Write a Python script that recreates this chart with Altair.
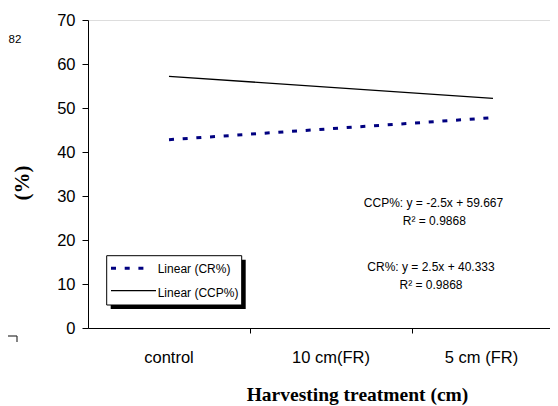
import altair as alt
import pandas as pd

# ---- data ----
categories = ["control", "10 cm(FR)", "5 cm (FR)"]
positions = [1, 2, 3]
cr_values = [42.8, 45.3, 47.8]      # Linear (CR%)
ccp_values = [57.2, 54.7, 52.2]     # Linear (CCP%)
y_ticks = [0, 10, 20, 30, 40, 50, 60, 70]
legend_labels = ["Linear (CR%)", "Linear (CCP%)"]
equations = ["CCP%: y = -2.5x + 59.667", "R\u00b2 = 0.9868",
             "CR%: y = 2.5x + 40.333", "R\u00b2 = 0.9868"]
x_title = "Harvesting treatment (cm)"
y_title = "(%)"

df = pd.DataFrame({"pos": positions, "cat": categories,
                   "cr": cr_values, "ccp": ccp_values})
one = pd.DataFrame({"k": [0]})

W, H = 462, 308
SANS = "Liberation Sans"
SERIF = "Liberation Serif"

xscale = alt.Scale(domain=[0.5, 0.5 + W / 162.0], nice=False, zero=False)
yscale = alt.Scale(domain=[0, 70], nice=False)

xaxis = alt.Axis(values=[1.5, 2.5], labels=False, tickSize=5, title=None,
                 grid=False, domainColor="black", tickColor="black")
yaxis = alt.Axis(values=y_ticks, tickSize=6, labelPadding=7, labelFontSize=16.5,
                 labelFont=SANS, labelColor="black", title=None, grid=False,
                 domainColor="black", tickColor="black")

base = alt.Chart(df)

ccp_line = base.mark_line(color="black", strokeWidth=1.3).encode(
    x=alt.X("pos:Q", scale=xscale, axis=xaxis),
    y=alt.Y("ccp:Q", scale=yscale, axis=yaxis),
)
cr_line = base.mark_line(color="#000080", strokeWidth=3, strokeDash=[5, 8.7]).encode(
    x=alt.X("pos:Q", scale=xscale),
    y=alt.Y("cr:Q", scale=yscale),
)
cat_labels_a = alt.Chart(df.iloc[:2]).mark_text(
    font=SANS, fontSize=16.5, color="black", baseline="alphabetic", align="center"
).encode(x=alt.X("pos:Q", scale=xscale), y=alt.value(343), text="cat:N")
cat_labels_b = alt.Chart(df.iloc[2:]).mark_text(
    font=SANS, fontSize=16.5, color="black", baseline="alphabetic", align="center",
    dx=-11.5,
).encode(x=alt.X("pos:Q", scale=xscale), y=alt.value(343), text="cat:N")


def txt(s, x, y, size=12, font=SANS, align="center", weight="normal", angle=0):
    kw = dict(text=s, font=font, fontSize=size, color="black", align=align,
              baseline="alphabetic", fontWeight=weight)
    if angle:
        kw["angle"] = angle
        kw["baseline"] = "middle"
    return alt.Chart(one).mark_text(**kw).encode(x=alt.value(x), y=alt.value(y))


def rule(x1, x2, y1, y2, color="black", width=1, dash=None):
    kw = dict(color=color, strokeWidth=width)
    if dash:
        kw["strokeDash"] = dash
    return alt.Chart(one).mark_rule(**kw).encode(
        x=alt.value(x1), x2=alt.value(x2), y=alt.value(y1), y2=alt.value(y2))


# legend
shadow = alt.Chart(one).mark_rect(fill="black").encode(
    x=alt.value(22.7), x2=alt.value(157.7), y=alt.value(239.7), y2=alt.value(289))
box = alt.Chart(one).mark_rect(fill="white", stroke="black", strokeWidth=1).encode(
    x=alt.value(18.7), x2=alt.value(153.7), y=alt.value(235.7), y2=alt.value(285))
leg_cr = rule(23, 64, 248.3, 248.3, color="#000080", width=3, dash=[5, 8.7])
leg_ccp = rule(23, 68, 270.7, 270.7, color="black", width=1.3)
leg_t1 = txt(legend_labels[0], 69.7, 252.7, size=12, align="left")
leg_t2 = txt(legend_labels[1], 69.7, 277, size=12, align="left")

# trendline equations
eq1 = txt(equations[0], 345.5, 187)
eq2 = txt(equations[1], 346.3, 205)
eq3 = txt(equations[2], 343, 251)
eq4 = txt(equations[3], 343, 269)

# axis titles
xt = txt(x_title, 269.5, 380.7, size=19.5, font=SERIF, weight="bold")
yt = txt(y_title, -65, 163, size=21, font=SERIF, weight="bold", angle=270)

# fragment of neighbouring figure at the left edge
frag_text = txt("82", -79.5, 23, size=11.5, align="left")
frag_h = rule(-88, -71, 316, 316, color="#333333", width=1.2)
frag_v = rule(-71, -71, 316, 322, color="#333333", width=1.2)

chart = alt.layer(
    ccp_line, cr_line, cat_labels_a, cat_labels_b,
    shadow, box, leg_cr, leg_ccp, leg_t1, leg_t2,
    eq1, eq2, eq3, eq4, xt, yt, frag_text, frag_h, frag_v,
).properties(
    width=W, height=H,
    autosize=alt.AutoSizeParams(type="none"),
    padding={"left": 80, "top": 12, "right": 0, "bottom": 78},
).configure_view(stroke=None).configure(background="white")

chart.save("out.html", embed_options={"renderer": "svg", "actions": False})
